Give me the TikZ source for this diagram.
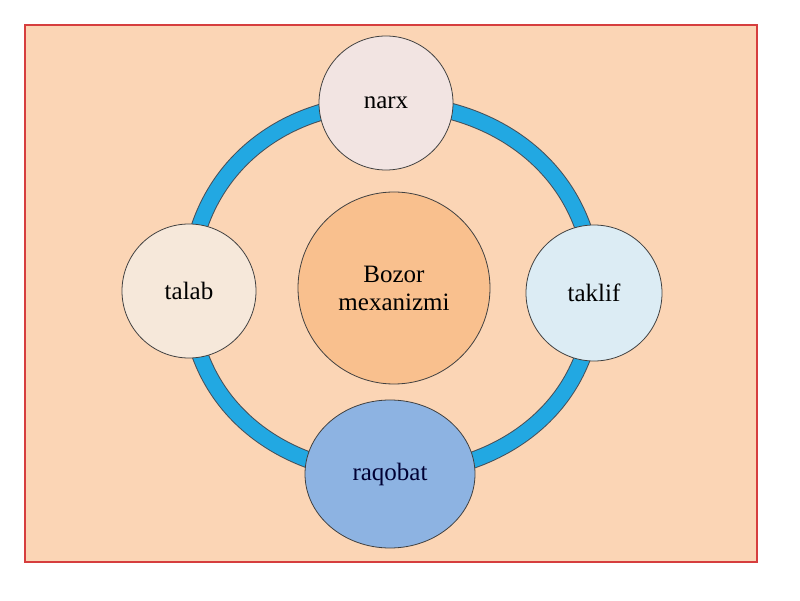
\documentclass[tikz,border=0pt]{standalone}
\usepackage{fontspec}
\setmainfont{Liberation Serif}
\usepackage{tikz}
\usetikzlibrary{shapes.geometric,backgrounds}
\definecolor{peach}{RGB}{251,213,181}
\definecolor{frame}{RGB}{214,62,62}
\definecolor{ringblue}{RGB}{34,168,226}
\definecolor{ringline}{RGB}{70,80,90}
\definecolor{narxfill}{RGB}{242,228,226}
\definecolor{talabfill}{RGB}{246,232,218}
\definecolor{takliffill}{RGB}{220,236,244}
\definecolor{raqobatfill}{RGB}{141,179,226}
\definecolor{centerfill}{RGB}{249,192,142}
\tikzstyle{bubble}=[circle, draw=black!75, line width=0.8pt, minimum size=134pt, inner sep=0pt, font=\fontsize{25}{28}\selectfont, align=center]
\tikzstyle{ringout}=[draw=ringline, line width=17pt, looseness=1.05]
\tikzstyle{ringin}=[draw=ringblue, line width=15pt, looseness=1.05]

\begin{document}
\begin{tikzpicture}[x=1pt, y=1pt]
		   \useasboundingbox (0,0) rectangle (800,600);
		   \begin{scope}
			   \node (mech) at (394, 312)[bubble, fill=centerfill, minimum size=192pt] {Bozor\\mexanizmi};
			   \node (narx) at (386, 497)[bubble, fill=narxfill] {narx};
			   \node (taklif) at (594, 307)[bubble, fill=takliffill, minimum size=136pt] {taklif};
			   \node (raqobat) at (390, 126)[bubble, ellipse, fill=raqobatfill, minimum width=170pt, minimum height=148pt, text=black!80!blue] {raqobat};
			   \node (talab) at (189, 309)[bubble, fill=talabfill] {talab};
		   \end{scope}
		   \begin{scope}[on background layer]
			   \path [fill=peach, draw=frame, line width=1.5pt] (25, 38) rectangle (757, 575);
			   \path [ringout] (narx.center) to[out=0, in=90] (taklif.center) to[out=-90, in=0] (raqobat.center) to[out=180, in=-90] (talab.center) to[out=90, in=180] (narx.center);
			   \path [ringin] (narx.center) to[out=0, in=90] (taklif.center) to[out=-90, in=0] (raqobat.center) to[out=180, in=-90] (talab.center) to[out=90, in=180] (narx.center);
		   \end{scope}
	   \end{tikzpicture}
\end{document}
